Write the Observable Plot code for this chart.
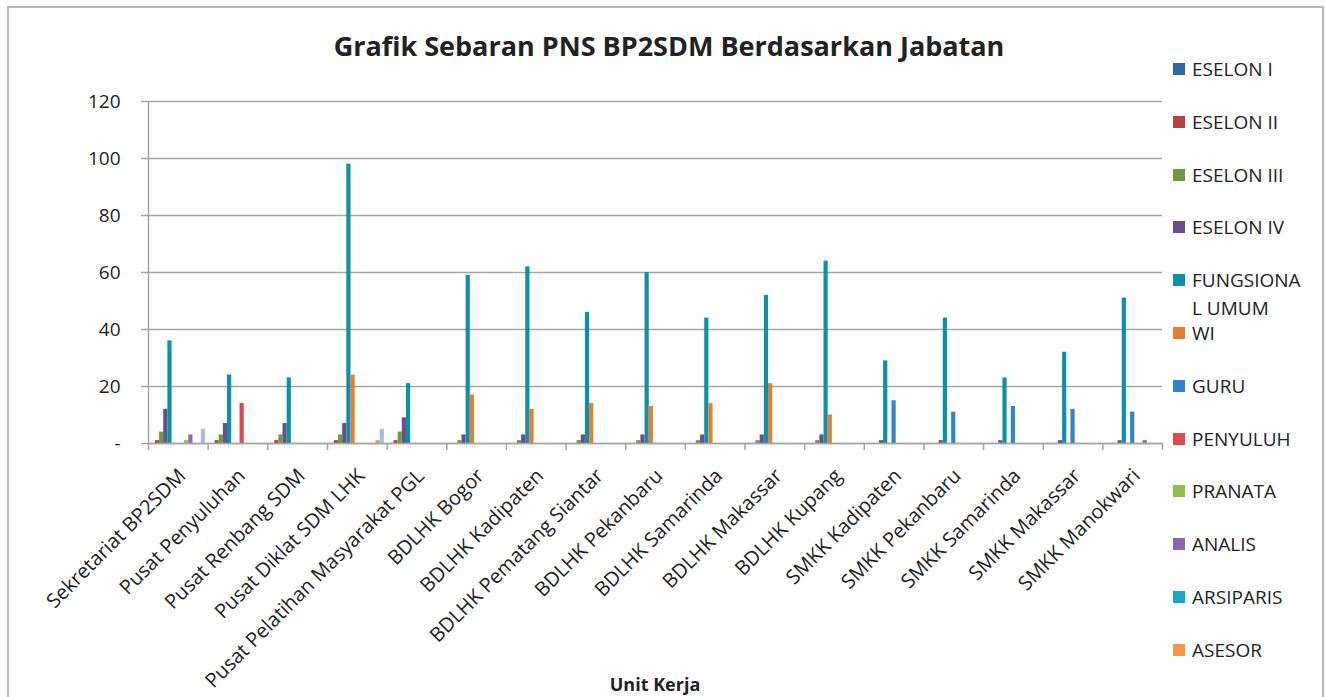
<!DOCTYPE html>
<html>
<head>
<meta charset="utf-8">
<script src="https://cdn.jsdelivr.net/npm/d3@7"></script>
<script src="https://cdn.jsdelivr.net/npm/@observablehq/plot@0.6"></script>
<style>
  body { margin: 0; background: #fff; font-family: "Open Sans", sans-serif; color: #222; }
  #wrap { position: relative; width: 1325px; height: 697px; overflow: hidden; background: #fff; }
  #frame { position: absolute; left: 7px; top: 6px; width: 1317px; height: 760px; border: 2px solid #b8b8b8; border-bottom: none; box-sizing: border-box; }
  #chart { position: absolute; left: 0; top: 0; }
  #title { position: absolute; left: 0; width: 1338px; top: 28px; text-align: center; font-weight: 700; font-size: 27px; line-height: 36px; }
  #xlabel { position: absolute; left: 0; width: 1310px; top: 671px; text-align: center; font-weight: 700; font-size: 18px; line-height: 26px; }
  .leg { position: absolute; left: 1173px; font-size: 19px; line-height: 28px; }
  .leg .sw { position: absolute; left: 0; top: 8px; width: 12px; height: 12px; }
  .leg .tx { position: absolute; left: 19px; top: 0; width: 116px; word-break: break-all; white-space: normal; }
</style>
</head>
<body>
<div id="wrap">
  <div id="frame"></div>
  <div id="chart"></div>
  <div id="title"></div>
  <div id="xlabel"></div>
</div>
<script>
// ---- Data ----
const chartTitle = "Grafik Sebaran PNS BP2SDM Berdasarkan Jabatan";
const xAxisTitle = "Unit Kerja";

const units = [
  "Sekretariat BP2SDM", "Pusat Penyuluhan", "Pusat Renbang SDM", "Pusat Diklat SDM LHK",
  "Pusat Pelatihan Masyarakat PGL", "BDLHK Bogor", "BDLHK Kadipaten", "BDLHK Pematang Siantar",
  "BDLHK Pekanbaru", "BDLHK Samarinda", "BDLHK Makassar", "BDLHK Kupang",
  "SMKK Kadipaten", "SMKK Pekanbaru", "SMKK Samarinda", "SMKK Makassar", "SMKK Manokwari"
];

const eselonI         = [0, 0, 0, 0, 0, 0, 0, 0, 0, 0, 0, 0, 0, 0, 0, 0, 0];
const eselonII        = [1, 1, 1, 1, 1, 0, 0, 0, 0, 0, 0, 0, 0, 0, 0, 0, 0];
const eselonIII       = [4, 3, 3, 3, 4, 1, 1, 1, 1, 1, 1, 1, 0, 0, 0, 0, 0];
const eselonIV        = [12, 7, 7, 7, 9, 3, 3, 3, 3, 3, 3, 3, 1, 1, 1, 1, 1];
const fungsionalUmum  = [36, 24, 23, 98, 21, 59, 62, 46, 60, 44, 52, 64, 29, 44, 23, 32, 51];
const wi              = [0, 0, 0, 24, 0, 17, 12, 14, 13, 14, 21, 10, 0, 0, 0, 0, 0];
const guru            = [0, 0, 0, 0, 0, 0, 0, 0, 0, 0, 0, 0, 15, 11, 13, 12, 11];
const penyuluh        = [0, 14, 0, 0, 0, 0, 0, 0, 0, 0, 0, 0, 0, 0, 0, 0, 0];
const pranata         = [1, 0, 0, 0, 0, 0, 0, 0, 0, 0, 0, 0, 0, 0, 0, 0, 0];
const analis          = [3, 0, 0, 0, 0, 0, 0, 0, 0, 0, 0, 0, 0, 0, 0, 0, 1];
const arsiparis       = [0, 0, 0, 0, 0, 0, 0, 0, 0, 0, 0, 0, 0, 0, 0, 0, 0];
const asesor          = [0, 0, 0, 1, 0, 0, 0, 0, 0, 0, 0, 0, 0, 0, 0, 0, 0];
const lainnya         = [5, 0, 0, 5, 0, 0, 0, 0, 0, 0, 0, 0, 0, 0, 0, 0, 0]; // 13th series (not shown in legend)

const seriesNames = ["ESELON I", "ESELON II", "ESELON III", "ESELON IV", "FUNGSIONAL UMUM", "WI",
  "GURU", "PENYULUH", "PRANATA", "ANALIS", "ARSIPARIS", "ASESOR", "LAINNYA"];
const seriesValues = [eselonI, eselonII, eselonIII, eselonIV, fungsionalUmum, wi,
  guru, penyuluh, pranata, analis, arsiparis, asesor, lainnya];
const legendSeries = seriesNames.slice(0, 12);

const yTicks = [0, 20, 40, 60, 80, 100, 120];

// ---- Styles ----
const colors = ["#2A68A8", "#B8413E", "#6F9A3B", "#6C4E8E", "#0893A8", "#E77D2E",
  "#3284C7", "#DA4B4A", "#8FBC4F", "#8D69AA", "#15AACB", "#F79548", "#A6BCDB"];
const gridColor = "#a6a6a6";

// ---- Build table ----
const table = [];
units.forEach((u, i) => seriesNames.forEach((s, j) => {
  const v = seriesValues[j][i];
  if (v > 0) table.push({unit: u, ui: i, series: s, si: j, value: v});
}));
const nS = seriesNames.length;
const barW = 0.07;
const pad = (1 - barW * nS) / 2;

const chart = Plot.plot({
  width: 1325,
  height: 697,
  marginLeft: 148,
  marginRight: 163,
  marginTop: 101,
  marginBottom: 254,
  style: {fontFamily: "Open Sans, sans-serif", fontSize: "19px", color: "#222", background: "transparent", overflow: "visible"},
  x: {domain: [0, units.length], axis: null},
  y: {domain: [0, 120], axis: null},
  color: {domain: seriesNames, range: colors},
  marks: [
    Plot.gridY(yTicks, {stroke: gridColor, strokeOpacity: 1, strokeWidth: 1.5}),
    Plot.axisY({ticks: yTicks, tickFormat: d => d === 0 ? "-" : String(d), tickSize: 7, tickPadding: 21,
      stroke: gridColor, strokeWidth: 1.5, label: null, fontSize: 19}),
    Plot.axisX({ticks: d3.range(units.length + 1), tickFormat: () => "", tickSize: 7, tickPadding: 0,
      stroke: gridColor, strokeWidth: 1.5, label: null}),
    Plot.rectY(table, {
      x1: d => d.ui + pad + d.si * barW,
      x2: d => d.ui + pad + (d.si + 1) * barW,
      y1: 0, y2: "value", fill: "series"
    }),
    Plot.ruleX([0], {stroke: gridColor, strokeWidth: 1.5}),
    Plot.ruleY([0], {stroke: gridColor, strokeWidth: 1.5}),
    Plot.text(units, {x: (d, i) => i + 0.5, y: 0, text: d => d, rotate: -45, textAnchor: "end",
      dx: 4, dy: 29, fontSize: 20, fill: "#222"})
  ]
});
document.getElementById("chart").appendChild(chart);

document.getElementById("title").textContent = chartTitle;
document.getElementById("xlabel").textContent = xAxisTitle;

// Legend
const wrap = document.getElementById("wrap");
legendSeries.forEach((s, i) => {
  const row = document.createElement("div");
  row.className = "leg";
  row.style.top = (69 + 52.8 * i - 14) + "px";
  const sw = document.createElement("span");
  sw.className = "sw";
  sw.style.background = colors[seriesNames.indexOf(s)];
  const tx = document.createElement("span");
  tx.className = "tx";
  tx.textContent = s;
  row.appendChild(sw);
  row.appendChild(tx);
  wrap.appendChild(row);
});
</script>
</body>
</html>
